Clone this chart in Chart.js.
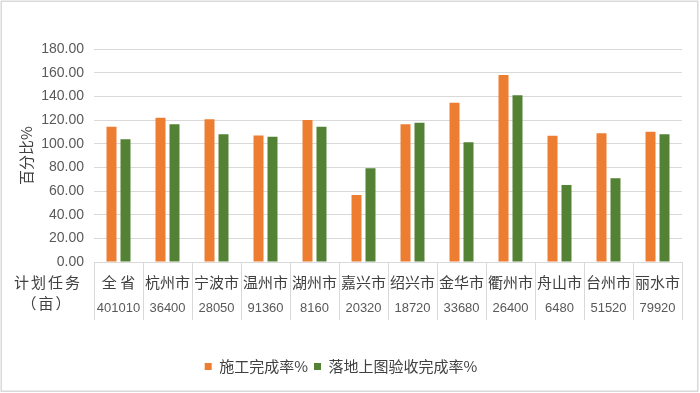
<!DOCTYPE html>
<html>
<head>
<meta charset="utf-8">
<script src="https://cdn.jsdelivr.net/npm/chart.js@4"></script>
<style>
html,body{margin:0;padding:0;background:#fff;}
#wrap{width:700px;height:393px;position:relative;}
</style>
</head>
<body>
<div id="wrap"><canvas id="c" width="700" height="393"></canvas></div>
<script>
const categories = ['全 省','杭州市','宁波市','温州市','湖州市','嘉兴市','绍兴市','金华市','衢州市','舟山市','台州市','丽水市'];
const planTasks = ['401010','36400','28050','91360','8160','20320','18720','33680','26400','6480','51520','79920'];
const constructionRate = [114.2,121.8,120.7,106.9,119.9,56.6,116.5,134.5,158.0,106.6,108.9,110.0];
const acceptanceRate = [103.8,116.5,108.0,105.8,114.2,79.2,117.6,101.2,141.0,65.1,70.8,108.0];
const seriesNames = ['施工完成率%','落地上图验收完成率%'];
const rowHeader = ['计划任务','（亩）'];

const CJK = '"Noto Sans CJK SC","Noto Sans",sans-serif';
const NUM = '"Liberation Sans","DejaVu Sans",sans-serif';
const gridColor = '#d9d9d9';

const decor = {
  id:'decor',
  afterDraw(chart){
    const ctx = chart.ctx;
    const top = chart.scales.x.top;
    ctx.save();
    ctx.fillStyle = '#404040';
    ctx.font = '15px ' + CJK;
    ctx.textAlign = 'center';
    ctx.textBaseline = 'middle';
    try { ctx.letterSpacing = '2px'; } catch(e) {}
    ctx.fillText(rowHeader[0], 48, top + 20);
    ctx.fillText(rowHeader[1], 47, top + 41);
    ctx.restore();
    ctx.save();
    ctx.strokeStyle = '#d9d9d9';
    ctx.lineWidth = 1.5;
    ctx.strokeRect(1.25, 1.25, 696.5, 390);
    ctx.restore();
  }
};

new Chart(document.getElementById('c'), {
  type:'bar',
  data:{
    labels: categories,
    datasets:[
      {label:seriesNames[0], data:constructionRate, backgroundColor:'#ED7D31', xAxisID:'x',
       categoryPercentage:0.571, barPercentage:0.714},
      {label:seriesNames[1], data:acceptanceRate, backgroundColor:'#548235', xAxisID:'x',
       categoryPercentage:0.571, barPercentage:0.714}
    ]
  },
  options:{
    responsive:false,
    animation:false,
    devicePixelRatio:1,
    layout:{padding:{top:49,right:18,left:0,bottom:9}},
    plugins:{
      legend:{
        position:'bottom',
        labels:{
          font:{family:CJK,size:15},
          color:'#404040',
          boxWidth:7, boxHeight:7,
          padding:6
        }
      },
      tooltip:{enabled:false}
    },
    scales:{
      y:{
        min:0, max:180,
        ticks:{stepSize:20, color:'#595959', font:{family:NUM,size:14}, padding:10,
          callback:(v)=>Number(v).toFixed(2)},
        grid:{color:gridColor, drawTicks:false, lineWidth:1},
        border:{display:false},
        title:{display:true, text:'百分比%', color:'#404040', font:{family:CJK,size:15}, padding:{top:17,bottom:0}},
        afterFit(s){ s.width = 94; }
      },
      x:{
        type:'category',
        position:'bottom',
        offset:true,
        grid:{offset:true, drawOnChartArea:false, drawTicks:true, tickLength:30, color:gridColor},
        border:{display:true, color:gridColor},
        ticks:{color:'#404040', font:{family:CJK,size:15}, padding:-19, maxRotation:0, autoSkip:false},
        afterFit(s){ s.height = 30; }
      },
      x2:{
        type:'category',
        position:'bottom',
        labels: planTasks,
        offset:true,
        grid:{offset:true, drawOnChartArea:false, drawTicks:true, tickLength:28, color:gridColor},
        border:{display:false},
        ticks:{color:'#595959', font:{family:NUM,size:13}, padding:-19, maxRotation:0, autoSkip:false},
        afterFit(s){ s.height = 61; }
      }
    }
  },
  plugins:[decor]
});
</script>
</body>
</html>
